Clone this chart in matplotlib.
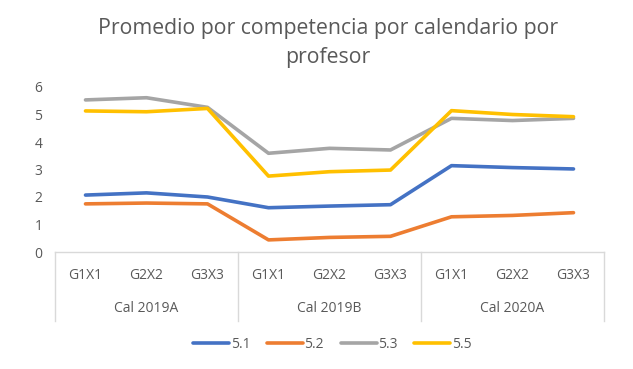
import matplotlib.pyplot as plt

groups = ["Cal 2019A", "Cal 2019B", "Cal 2020A"]
subcats = ["G1X1", "G2X2", "G3X3"]
series_names = ["5.1", "5.2", "5.3", "5.5"]

s51 = [2.07, 2.15, 2.00, 1.61, 1.67, 1.72, 3.14, 3.07, 3.02]
s52 = [1.75, 1.78, 1.75, 0.44, 0.53, 0.57, 1.28, 1.33, 1.43]
s53 = [5.53, 5.61, 5.26, 3.59, 3.77, 3.71, 4.86, 4.78, 4.86]
s55 = [5.13, 5.10, 5.22, 2.76, 2.92, 2.98, 5.14, 5.00, 4.92]

colors = ["#4472C4", "#ED7D31", "#A5A5A5", "#FFC000"]
txt = "#595959"
axcol = "#D9D9D9"

plt.rcParams['font.family'] = ['Open Sans', 'DejaVu Sans']

fig = plt.figure(figsize=(6.33, 3.69), dpi=100)
ax = fig.add_axes([55 / 633, 1 - 252 / 369, 549 / 633, 165 / 369])

x = list(range(len(s51)))
for vals, name, c in zip([s51, s52, s53, s55], series_names, colors):
    ax.plot(x, vals, color=c, lw=2.6, label=name, solid_capstyle='round')

ax.set_xlim(-0.5, len(x) - 0.5)
ax.set_ylim(0, 6)
ax.set_yticks(range(0, 7))
ax.tick_params(axis='y', length=0, labelsize=10, labelcolor=txt, pad=9)
ax.set_xticks([])
for s in ["top", "right", "left"]:
    ax.spines[s].set_visible(False)
ax.spines["bottom"].set_color(axcol)
ax.spines["bottom"].set_linewidth(1)

# multi-level category axis
tr = ax.get_xaxis_transform()
ng = len(subcats)
for i in range(len(groups) + 1):
    xb = i * ng - 0.5
    ax.plot([xb, xb], [0, -0.42], color=axcol, lw=1, transform=tr, clip_on=False)
for i, g in enumerate(groups):
    for j, s in enumerate(subcats):
        ax.text(i * ng + j, -0.14, s, transform=tr, ha='center', va='center',
                fontsize=10, color=txt)
    ax.text(i * ng + (ng - 1) / 2, -0.34, g, transform=tr, ha='center', va='center',
            fontsize=10, color=txt)

fig.text(0.518, 1 - 43 / 369, "Promedio por competencia por calendario por\nprofesor",
         ha='center', va='center', fontsize=15.3, color=txt, linespacing=1.5)

fig.legend(loc='center', bbox_to_anchor=(0.525, 1 - 344 / 369), ncol=4, frameon=False,
           fontsize=10, labelcolor=txt, handlelength=2.6, handletextpad=0.1,
           columnspacing=1.2)

plt.savefig("out.png")
